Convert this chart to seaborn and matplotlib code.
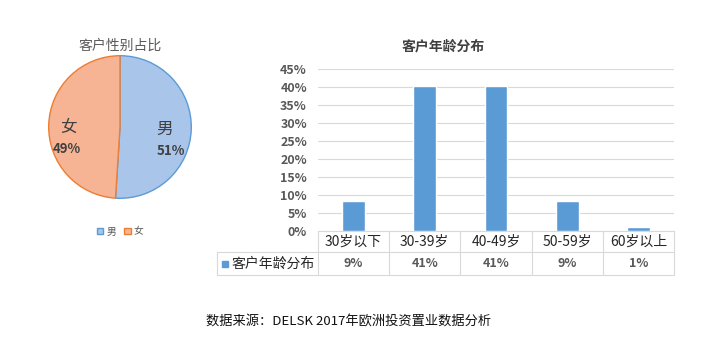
import matplotlib
matplotlib.use("Agg")
import matplotlib.pyplot as plt
import matplotlib.transforms as mtransforms
import pandas as pd
import seaborn as sns

sns.set_theme(style="white")
plt.rcParams['font.family'] = ['Noto Sans CJK SC', 'DejaVu Sans']

# Data
genders = ['男', '女']
gender_share = [51, 49]
age_groups = ['30岁以下', '30-39岁', '40-49岁', '50-59岁', '60岁以上']
age_share = [8.4, 40.3, 40.3, 8.4, 1.1]
age_labels = ['9%', '41%', '41%', '9%', '1%']
y_ticks = [0, 5, 10, 15, 20, 25, 30, 35, 40, 45]

BLUE = '#5B9BD5'
GRID = '#D9D9D9'
TXT = '#595959'

W, H = 723, 364
fig = plt.figure(figsize=(W / 100, H / 100), dpi=100)

# Pie chart: gender split
cx, cy, r = 120, 127, 72
ax_pie = fig.add_axes([(cx - r) / W, (H - cy - r) / H, 2 * r / W, 2 * r / H])
wedges, _ = ax_pie.pie(gender_share, startangle=90, counterclock=False,
                       colors=['#A9C5EA', '#F6B495'],
                       wedgeprops=dict(linewidth=1.0))
wedges[0].set_edgecolor(BLUE)
wedges[1].set_edgecolor('#ED7D31')
ax_pie.set_xlim(-1.01, 1.01)
ax_pie.set_ylim(-1.01, 1.01)
fig.text(cx / W, 1 - 46 / H, '客户性别占比', ha='center', va='center',
         fontsize=10, color=TXT)

name_pos = [(0.63, -0.03), (-0.72, -0.01)]
pct_pos = [(0.72, -0.33), (-0.74, -0.31)]
for g, s, npos, ppos in zip(genders, gender_share, name_pos, pct_pos):
    ax_pie.text(*npos, g, ha='center', va='center', fontsize=12, color='#404040')
    ax_pie.text(*ppos, f'{s}%', ha='center', va='center', fontsize=9.5,
                fontweight='bold', color='#404040')

ax_pie.legend(wedges, genders, loc='upper center', bbox_to_anchor=(0.5, -0.13),
              ncol=2, frameon=False, fontsize=7, handlelength=0.7,
              handleheight=0.7, handletextpad=0.3, columnspacing=0.8,
              labelcolor=TXT)

# Bar chart: age split
x0, x1, y0, y1 = 318, 674, 231, 69
ax = fig.add_axes([x0 / W, (H - y0) / H, (x1 - x0) / W, (y0 - y1) / H])
df_age = pd.DataFrame({'age': age_groups, 'share': age_share})
sns.barplot(data=df_age, x='age', y='share', color=BLUE, width=0.32,
            saturation=1, ax=ax, zorder=3)
ax.set_xlim(-0.5, len(age_groups) - 0.5)
ax.set_ylim(0, 45)
ax.set_yticks(y_ticks)
ax.set_yticklabels([f'{t}%' for t in y_ticks], fontsize=9,
                   fontweight='bold', color=TXT)
ax.tick_params(axis='y', length=0, pad=8)
ax.set_xticks([])
ax.set_xlabel('')
ax.set_ylabel('')
ax.yaxis.grid(True, color=GRID, linewidth=0.8, zorder=0)
for side in ['left', 'right', 'top']:
    ax.spines[side].set_visible(False)
ax.spines['bottom'].set_color(GRID)
ax.spines['bottom'].set_linewidth(0.8)
fig.text(443 / W, 1 - 47 / H, '客户年龄分布', ha='center', va='center',
         fontsize=10, fontweight='bold', color='#404040')

# Data table under the bars
blend = mtransforms.blended_transform_factory(ax.transData, ax.transAxes)
ph = y0 - y1
r1 = -21 / ph
r2 = -44 / ph
lx = (217 - x0) / (x1 - x0)
lkw = dict(color=GRID, linewidth=0.8, clip_on=False)
xl, xr = -0.5, len(age_groups) - 0.5
ax.plot([xl, xr], [r1, r1], transform=blend, **lkw)
ax.plot([xl, xr], [r2, r2], transform=blend, **lkw)
ax.plot([lx, 0], [r1, r1], transform=ax.transAxes, **lkw)
ax.plot([lx, 0], [r2, r2], transform=ax.transAxes, **lkw)
ax.plot([lx, lx], [r1, r2], transform=ax.transAxes, **lkw)
for i in range(len(age_groups) + 1):
    ax.plot([i - 0.5, i - 0.5], [0, r2], transform=blend, **lkw)
for i, (g, lab) in enumerate(zip(age_groups, age_labels)):
    ax.text(i, r1 / 2, g, transform=blend, ha='center', va='center',
            fontsize=10, color='#262626')
    ax.text(i, (r1 + r2) / 2, lab, transform=blend, ha='center', va='center',
            fontsize=9, fontweight='bold', color=TXT)
ax.plot([(225 - x0) / (x1 - x0)], [(r1 + r2) / 2], marker='s', markersize=5,
        color=BLUE, transform=ax.transAxes, clip_on=False)
ax.text((231 - x0) / (x1 - x0), (r1 + r2) / 2, '客户年龄分布', transform=ax.transAxes,
        ha='left', va='center', fontsize=10, color='#262626')

fig.text(349 / W, 1 - 322 / H, '数据来源：DELSK 2017年欧洲投资置业数据分析',
         ha='center', va='center', fontsize=9.5, color='#111111')

fig.savefig('out.png', dpi=100, facecolor='white')
